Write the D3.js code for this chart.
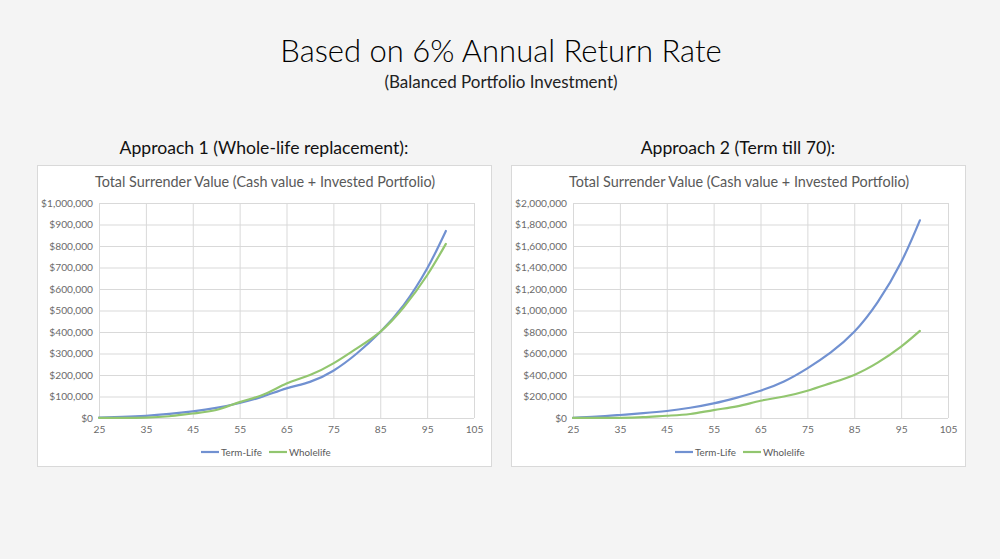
<!DOCTYPE html>
<html>
<head>
<meta charset="utf-8">
<script src="https://cdn.jsdelivr.net/npm/d3@7"></script>
<style>
	html, body { margin: 0; padding: 0; background: #f4f4f4; }
	svg { display: block; font-family: Lato, "Open Sans", sans-serif; }
	.grid line, .grid path { stroke: #d9d9d9; }
	.tick text { fill: #6b6b6b; }
</style>
</head>
<body>
<div id="chart"></div>
<script>
// ages (every 5 years, series end at 99)
const ages = [25, 30, 35, 40, 45, 50, 55, 60, 65, 70, 75, 80, 85, 90, 95, 99];
// Approach 1: term-life (whole-life replacement)
const termLife1 = [2000, 5000, 10000, 19000, 31000, 47000, 70000, 100000, 138000, 168000, 220000, 300000, 400000, 525000, 695000, 870000];
// whole life, same in both charts
const wholeLife = [1000, 1000, 2000, 8000, 21000, 37000, 74000, 108000, 160000, 200000, 254000, 324000, 401000, 515000, 664000, 810000];
// Approach 2: term till 70
const termLife2 = [2000, 12000, 28000, 45000, 65000, 95000, 136000, 190000, 254000, 340000, 462000, 610000, 802000, 1078000, 1449000, 1839000];

const xTicks = [25, 35, 45, 55, 65, 75, 85, 95, 105];
const yTicks1 = [0, 100000, 200000, 300000, 400000, 500000, 600000, 700000, 800000, 900000, 1000000];
const yTicks2 = [0, 200000, 400000, 600000, 800000, 1000000, 1200000, 1400000, 1600000, 1800000, 2000000];

const seriesNames = ['Term-Life', 'Wholelife'];
const colors = ['#7191d1', '#92c66f'];

const W = 1000, H = 559;
const svg = d3.select('#chart').append('svg')
	.attr('width', W)
	.attr('height', H)
	.attr('viewBox', `0 0 ${W} ${H}`);

svg.append('rect').attr('width', W).attr('height', H).attr('fill', '#f4f4f4');

svg.append('text')
	.attr('x', 501).attr('y', 62)
	.attr('text-anchor', 'middle')
	.attr('font-size', 31)
	.attr('font-weight', 300)
	.attr('fill', '#000')
	.text('Based on 6% Annual Return Rate');

svg.append('text')
	.attr('x', 501).attr('y', 88)
	.attr('text-anchor', 'middle')
	.attr('font-size', 17)
	.attr('fill', '#222')
	.text('(Balanced Portfolio Investment)');

const charts = [
	{ x: 37, heading: 'Approach 1 (Whole-life replacement):', headX: 264, term: termLife1, yTicks: yTicks1 },
	{ x: 511, heading: 'Approach 2 (Term till 70):', headX: 738, term: termLife2, yTicks: yTicks2 }
];

const box = { y: 165, w: 454, h: 301 };
const m = { top: 38, left: 62, right: 17, bottom: 48 };
const fmt = d3.format('$,.0f');

charts.forEach(c => {
	svg.append('text')
		.attr('x', c.headX).attr('y', 154)
		.attr('text-anchor', 'middle')
		.attr('font-size', 17.6)
		.attr('fill', '#111')
		.text(c.heading);

	const g = svg.append('g').attr('transform', `translate(${c.x},${box.y})`);

	g.append('rect')
		.attr('x', 0.5).attr('y', 0.5)
		.attr('width', box.w).attr('height', box.h)
		.attr('fill', '#fff')
		.attr('stroke', '#d9d9d9');

	g.append('text')
		.attr('x', box.w / 2 + 1).attr('y', 22)
		.attr('text-anchor', 'middle')
		.attr('font-size', 14.4)
		.attr('fill', '#595959')
		.text('Total Surrender Value (Cash value + Invested Portfolio)');

	const width = box.w - m.left - m.right,
		height = box.h - m.top - m.bottom;

	const xScale = d3.scaleLinear().domain([25, 105]).range([0, width]);
	const yScale = d3.scaleLinear().domain([0, d3.max(c.yTicks)]).range([height, 0]);

	const plot = g.append('g').attr('transform', `translate(${m.left},${m.top})`);

	// gridlines
	plot.append('g')
		.attr('class', 'grid')
		.call(d3.axisLeft(yScale).tickValues(c.yTicks).tickSize(-width).tickFormat(fmt).tickPadding(6))
		.call(s => s.select('.domain').remove())
		.call(s => s.selectAll('.tick text').attr('font-size', 10.2).attr('font-family', 'Lato, sans-serif'));

	plot.append('g')
		.attr('class', 'grid')
		.attr('transform', `translate(0,${height})`)
		.call(d3.axisBottom(xScale).tickValues(xTicks).tickSize(-height).tickPadding(8))
		.call(s => s.select('.domain').remove())
		.call(s => s.selectAll('.tick text').attr('font-size', 10.2).attr('font-family', 'Lato, sans-serif'));

	const line = d3.line()
		.x((d, i) => xScale(ages[i]))
		.y(d => yScale(d))
		.curve(d3.curveNatural);

	[c.term, wholeLife].forEach((vals, i) => {
		plot.append('path')
			.datum(vals)
			.attr('fill', 'none')
			.attr('stroke', colors[i])
			.attr('stroke-width', 2.2)
			.attr('stroke-linecap', 'round')
			.attr('d', line);
	});

	// legend
	const lg = g.append('g').attr('transform', `translate(164,287)`);
	const legendX = [0, 68];
	seriesNames.forEach((name, i) => {
		const item = lg.append('g').attr('transform', `translate(${legendX[i]},0)`);
		item.append('line')
			.attr('x1', 0).attr('x2', 18)
			.attr('stroke', colors[i])
			.attr('stroke-width', 2.2);
		item.append('text')
			.attr('x', 20).attr('y', 3.5)
			.attr('font-size', 9.8)
			.attr('fill', '#595959')
			.text(name);
	});
});
</script>
</body>
</html>
